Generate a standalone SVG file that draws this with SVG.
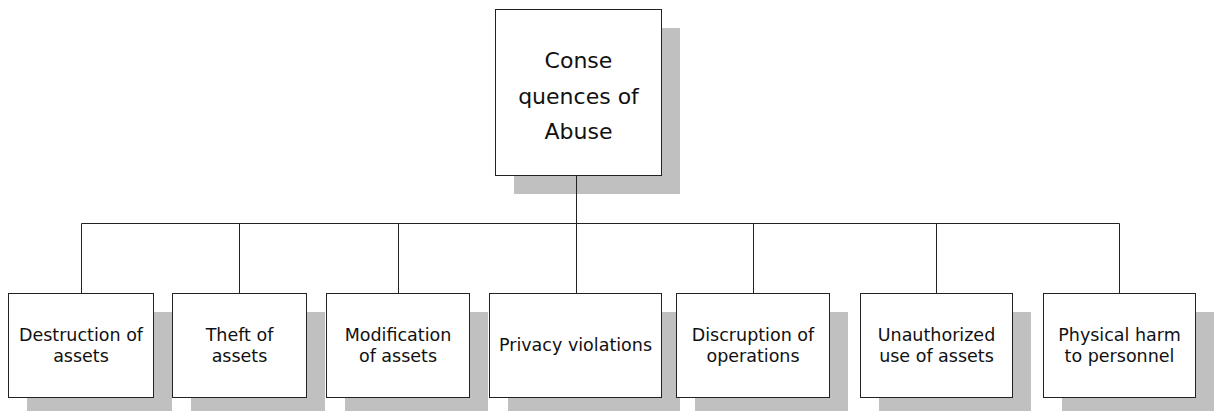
<svg xmlns="http://www.w3.org/2000/svg" width="1215" height="411" viewBox="0 0 1215 411">
<style>
.box{fill:#ffffff;stroke:#222222;stroke-width:1}
.shadow{fill:#c0c0c0;stroke:none}
.conn{fill:none;stroke:#222222;stroke-width:1}
text{font-family:"DejaVu Sans","Liberation Sans",sans-serif;fill:#111111;text-anchor:middle}
.t1{font-size:22px}
.t2{font-size:17.5px}
</style>
<rect width="1215" height="411" fill="#ffffff"/>
<g id="root">
<rect class="shadow" x="514" y="28" width="166" height="166"/>
<rect class="box" x="495.5" y="9.5" width="166" height="166"/>
<text class="t1" x="578.5" y="68">Conse</text>
<text class="t1" x="578.5" y="104">quences of</text>
<text class="t1" x="578.5" y="139">Abuse</text>
</g>
<g id="destruction">
<rect class="shadow" x="27" y="312" width="145" height="104"/>
<rect class="box" x="8.5" y="293.5" width="145" height="104"/>
<text class="t2" x="81" y="341">Destruction of</text>
<text class="t2" x="81" y="362">assets</text>
</g>
<g id="theft">
<rect class="shadow" x="191" y="312" width="134" height="104"/>
<rect class="box" x="172.5" y="293.5" width="134" height="104"/>
<text class="t2" x="239.5" y="341">Theft of</text>
<text class="t2" x="239.5" y="362">assets</text>
</g>
<g id="modification">
<rect class="shadow" x="345" y="312" width="143" height="104"/>
<rect class="box" x="326.5" y="293.5" width="143" height="104"/>
<text class="t2" x="398" y="341">Modification</text>
<text class="t2" x="398" y="362">of assets</text>
</g>
<g id="privacy">
<rect class="shadow" x="508" y="312" width="172" height="104"/>
<rect class="box" x="489.5" y="293.5" width="172" height="104"/>
<text class="t2" x="575.5" y="351">Privacy violations</text>
</g>
<g id="disruption">
<rect class="shadow" x="695" y="312" width="153" height="104"/>
<rect class="box" x="676.5" y="293.5" width="153" height="104"/>
<text class="t2" x="753" y="341">Discruption of</text>
<text class="t2" x="753" y="362">operations</text>
</g>
<g id="unauthorized">
<rect class="shadow" x="879" y="312" width="152" height="104"/>
<rect class="box" x="860.5" y="293.5" width="152" height="104"/>
<text class="t2" x="936.5" y="341">Unauthorized</text>
<text class="t2" x="936.5" y="362">use of assets</text>
</g>
<g id="physical">
<rect class="shadow" x="1062" y="312" width="152" height="104"/>
<rect class="box" x="1043.5" y="293.5" width="152" height="104"/>
<text class="t2" x="1119.5" y="341">Physical harm</text>
<text class="t2" x="1119.5" y="362">to personnel</text>
</g>
<g id="connectors">
<path class="conn" d="M576.5 175.5V293.5"/>
<path class="conn" d="M81.5 223.5H1119.5"/>
<path class="conn" d="M81.5 223.5V293.5M239.5 223.5V293.5M398.5 223.5V293.5M753.5 223.5V293.5M936.5 223.5V293.5M1119.5 223.5V293.5"/>
</g>
</svg>
